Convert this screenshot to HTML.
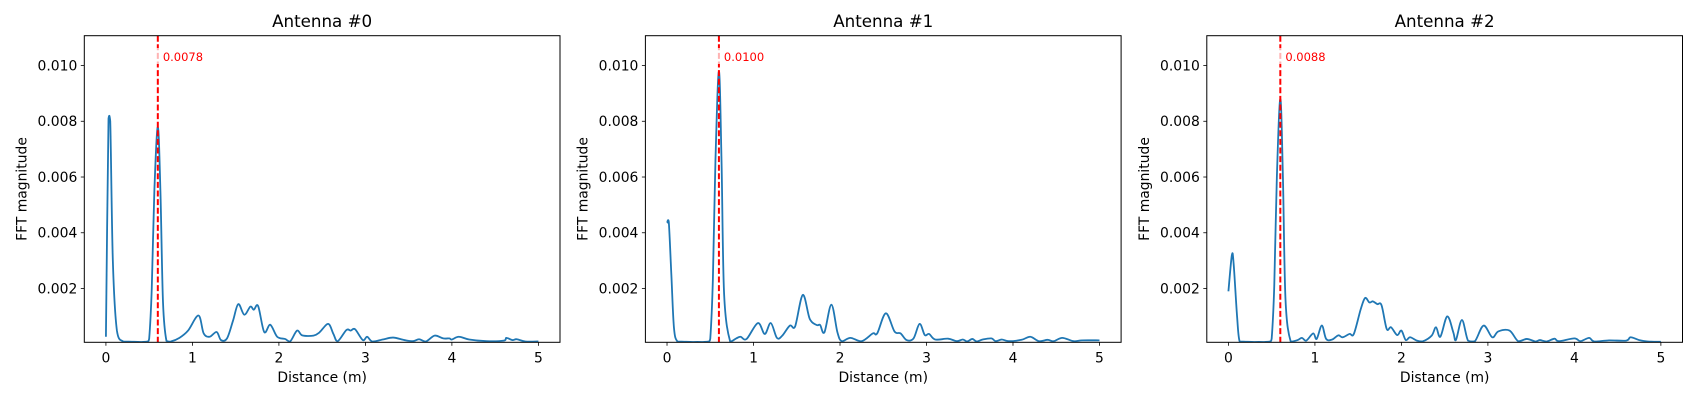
<!DOCTYPE html>
<html><head><meta charset="utf-8"><style>
html,body{margin:0;padding:0;background:#fff;}
svg{display:block;font-family:"DejaVu Sans","Liberation Sans",sans-serif;}
</style></head><body>
<svg id="fig" width="1698" height="400" viewBox="0 0 1698 400" xmlns="http://www.w3.org/2000/svg"></svg>
<script>
const titles = ["Antenna #0", "Antenna #1", "Antenna #2"];
const peakLabels = ["0.0078", "0.0100", "0.0088"];
const peakX = [0.6, 0.6, 0.6];
const yTicks = [0.002, 0.004, 0.006, 0.008, 0.010];
const yTickLabels = ["0.002", "0.004", "0.006", "0.008", "0.010"];
const xTicks = [0, 1, 2, 3, 4, 5];
const xTickLabels = ["0", "1", "2", "3", "4", "5"];
// values in units of 1e-3
const x0 = [0,0.03,0.05,0.08,0.127,0.2,0.3,0.4,0.48,0.5,0.53,0.56,0.6,0.63,0.66,0.7,0.75,0.85,0.95,1.07,1.13,1.2,1.28,1.33,1.4,1.47,1.53,1.6,1.67,1.71,1.76,1.83,1.9,1.98,2.07,2.13,2.21,2.27,2.4,2.47,2.57,2.63,2.68,2.78,2.83,2.88,2.97,3.02,3.08,3.2,3.32,3.45,3.55,3.62,3.7,3.8,3.9,3.97,4.0,4.08,4.2,4.4,4.6,4.63,4.7,4.75,4.85,5.0];
const y0 = [0.27,8.1,8.0,3.0,0.49,0.1,0.09,0.08,0.1,0.2,2.0,5.5,7.8,5.5,1.5,0.12,0.1,0.23,0.49,1.03,0.39,0.27,0.44,0.15,0.21,0.85,1.44,1.06,1.35,1.24,1.37,0.44,0.7,0.27,0.19,0.1,0.49,0.32,0.31,0.43,0.73,0.37,0.11,0.51,0.49,0.54,0.15,0.27,0.1,0.17,0.24,0.15,0.11,0.18,0.1,0.31,0.21,0.21,0.17,0.27,0.17,0.11,0.13,0.23,0.15,0.18,0.1,0.1];
const x1 = [0,0.02,0.05,0.08,0.12,0.2,0.3,0.4,0.48,0.5,0.53,0.56,0.6,0.63,0.66,0.73,0.8,0.85,0.92,1.05,1.13,1.2,1.27,1.33,1.42,1.48,1.57,1.65,1.73,1.77,1.82,1.9,1.97,2.02,2.12,2.25,2.38,2.43,2.53,2.63,2.7,2.77,2.85,2.92,2.98,3.03,3.1,3.25,3.35,3.42,3.47,3.53,3.58,3.65,3.75,3.8,3.87,3.95,4.1,4.2,4.3,4.4,4.47,4.57,4.7,4.8,5.0];
const y1 = [4.35,4.4,2.5,0.6,0.1,0.09,0.08,0.08,0.1,0.2,2.3,6.6,9.8,6.6,1.8,0.1,0.21,0.27,0.19,0.76,0.37,0.76,0.23,0.3,0.67,0.63,1.77,0.91,0.69,0.69,0.43,1.42,0.43,0.11,0.23,0.11,0.39,0.39,1.11,0.46,0.39,0.15,0.21,0.73,0.33,0.37,0.17,0.2,0.11,0.17,0.1,0.19,0.1,0.17,0.21,0.11,0.17,0.11,0.16,0.27,0.11,0.16,0.11,0.23,0.11,0.14,0.14];
const x2 = [0,0.04,0.06,0.1,0.13,0.2,0.3,0.4,0.48,0.5,0.53,0.56,0.6,0.63,0.66,0.72,0.8,0.85,0.9,0.98,1.02,1.08,1.13,1.2,1.27,1.32,1.4,1.45,1.53,1.58,1.63,1.67,1.72,1.77,1.83,1.88,1.95,2.0,2.05,2.1,2.18,2.25,2.35,2.4,2.45,2.53,2.6,2.63,2.7,2.77,2.85,2.95,3.05,3.12,3.25,3.35,3.45,3.55,3.6,3.68,3.77,3.82,4.0,4.07,4.17,4.23,4.4,4.6,4.65,4.75,4.85,5.0];
const y2 = [1.9,3.2,2.9,1.0,0.1,0.09,0.08,0.08,0.1,0.2,2.1,6.0,8.8,6.0,1.6,0.1,0.15,0.23,0.13,0.39,0.19,0.67,0.19,0.17,0.32,0.25,0.37,0.37,1.26,1.66,1.5,1.54,1.44,1.4,0.55,0.61,0.33,0.49,0.15,0.25,0.13,0.11,0.31,0.61,0.27,1.0,0.43,0.15,0.87,0.13,0.11,0.67,0.25,0.46,0.49,0.11,0.19,0.1,0.15,0.1,0.2,0.11,0.21,0.11,0.23,0.1,0.14,0.13,0.25,0.15,0.1,0.09];
const xsAll = [x0, x1, x2];
const ysAll = [y0, y1, y2];

const NS = "http://www.w3.org/2000/svg";
const fig = document.getElementById('fig');
const axLeft = [84.3, 645.4, 1206.8], axW = 475.7, axTop = 35.7, axBot = 342.3;
const xMin = -0.25, xMax = 5.25, yMin = 0.00007, yMax = 0.01107;
function mk(tag, attrs, parent) { const e = document.createElementNS(NS, tag); for (const k in attrs) e.setAttribute(k, attrs[k]); (parent || fig).appendChild(e); return e; }

for (let p = 0; p < 3; p++) {
  const L = axLeft[p];
  const sx = v => L + (v - xMin) / (xMax - xMin) * axW;
  const sy = v => axBot - (v - yMin) / (yMax - yMin) * (axBot - axTop);
  const g = mk('g', {});
  
  
  const clipId = 'clip' + p;
  const cp = mk('clipPath', {id: clipId}, g);
  mk('rect', {x: L, y: axTop, width: axW, height: axBot - axTop}, cp);
  const xs = xsAll[p], ys = ysAll[p];
  const pts = xs.map((x, i) => [sx(x), sy(ys[i] / 1000)]);
  let d = 'M' + pts[0][0].toFixed(2) + ',' + pts[0][1].toFixed(2);
  for (let i = 0; i < pts.length - 1; i++) {
    const a = pts[Math.max(i - 1, 0)], b = pts[i], c = pts[i + 1], e = pts[Math.min(i + 2, pts.length - 1)];
    const t = 6;
    let c1y = b[1] + (c[1] - a[1]) / t, c2y = c[1] - (e[1] - b[1]) / t;
    const lo = Math.min(b[1], c[1]) - 4, hi = Math.max(b[1], c[1]) + 4;
    c1y = Math.max(lo, Math.min(hi, c1y)); c2y = Math.max(lo, Math.min(hi, c2y));
    c1y = Math.min(c1y, axBot - 0.5); c2y = Math.min(c2y, axBot - 0.5);
    d += ' C' + (b[0] + (c[0] - a[0]) / t).toFixed(2) + ',' + c1y.toFixed(2) + ' ' + (c[0] - (e[0] - b[0]) / t).toFixed(2) + ',' + c2y.toFixed(2) + ' ' + c[0].toFixed(2) + ',' + c[1].toFixed(2);
  }
  const line = mk('path', {d: d, fill: 'none', stroke: '#1f77b4', 'stroke-width': 1.8, 'stroke-linejoin': 'round', 'clip-path': 'url(#' + clipId + ')'}, g);
  
  
  const px = sx(peakX[p]);
  const vl = mk('line', {x1: px, x2: px, y1: axTop, y2: axBot, stroke: '#ff0000', 'stroke-width': 2, 'stroke-dasharray': '6,2.6'}, g);
  
  
  mk('rect', {x: px - 2, y: 48, width: 4, height: 16, fill: '#fff', opacity: 0.7}, g);
  const pl = mk('text', {x: px + 5, y: 61, fill: '#ff0000', 'font-size': 11.5}, g);
  pl.textContent = peakLabels[p];
  
  
  const fr = mk('rect', {x: L, y: axTop, width: axW, height: axBot - axTop, fill: 'none', stroke: '#000', 'stroke-width': 1}, g);
  
  
  yTicks.forEach((v, i) => {
    const y = sy(v);
    mk('line', {x1: L - 3.5, x2: L, y1: y, y2: y, stroke: '#000', 'stroke-width': 0.8}, g);
    const t = mk('text', {x: L - 7, y: y + 4.8, 'text-anchor': 'end', 'font-size': 13.9}, g);
    t.textContent = yTickLabels[i];
    
    
  });
  xTicks.forEach((v, i) => {
    const x = sx(v);
    mk('line', {x1: x, x2: x, y1: axBot, y2: axBot + 3.5, stroke: '#000', 'stroke-width': 0.8}, g);
    const t = mk('text', {x: x, y: axBot + 20, 'text-anchor': 'middle', 'font-size': 13.9}, g);
    t.textContent = xTickLabels[i];
    
    
  });
  const tt = mk('text', {x: L + axW / 2, y: 27, 'text-anchor': 'middle', 'font-size': 16.7}, g);
  tt.textContent = titles[p];
  
  
  const xl = mk('text', {x: L + axW / 2, y: 382, 'text-anchor': 'middle', 'font-size': 13.9}, g);
  xl.textContent = 'Distance (m)';
  
  
  const yx = L - 58, yy = (axTop + axBot) / 2;
  const yl = mk('text', {x: yx, y: yy, 'text-anchor': 'middle', 'font-size': 13.9, transform: 'rotate(-90 ' + yx + ' ' + yy + ')'}, g);
  yl.textContent = 'FFT magnitude';
  
  
}
</script>
</body></html>
